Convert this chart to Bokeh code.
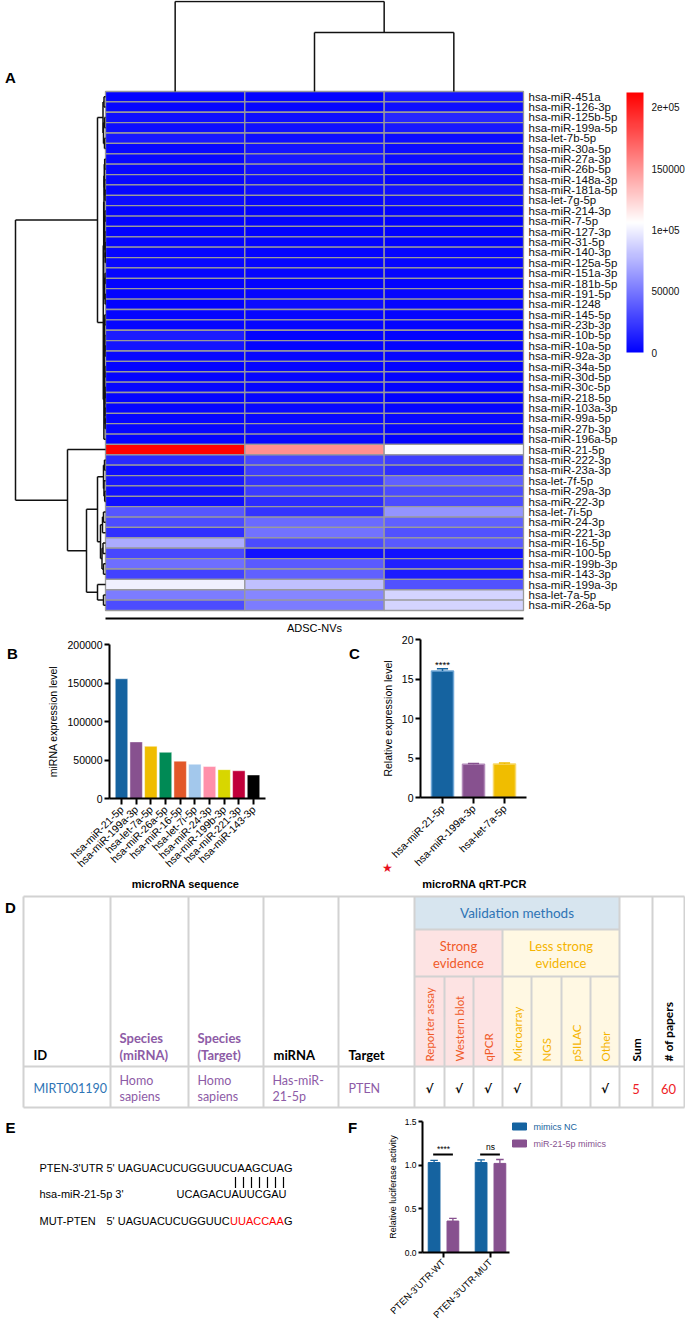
import numpy as np
from math import pi
from bokeh.plotting import figure
from bokeh.layouts import column, row
from bokeh.models import (Range1d, LinearColorMapper, FixedTicker,
                          BasicTickFormatter, NumeralTickFormatter, ColumnDataSource)
from bokeh.core.properties import value
from bokeh.embed import file_html
from bokeh.resources import INLINE

ARIAL = "Liberation Sans"
TFONT = "Lato"

# ---------------- Panel A data ----------------
mirna_names = [
    "hsa-miR-451a", "hsa-miR-126-3p", "hsa-miR-125b-5p", "hsa-miR-199a-5p", "hsa-let-7b-5p",
    "hsa-miR-30a-5p", "hsa-miR-27a-3p", "hsa-miR-26b-5p", "hsa-miR-148a-3p", "hsa-miR-181a-5p",
    "hsa-let-7g-5p", "hsa-miR-214-3p", "hsa-miR-7-5p", "hsa-miR-127-3p", "hsa-miR-31-5p",
    "hsa-miR-140-3p", "hsa-miR-125a-5p", "hsa-miR-151a-3p", "hsa-miR-181b-5p", "hsa-miR-191-5p",
    "hsa-miR-1248", "hsa-miR-145-5p", "hsa-miR-23b-3p", "hsa-miR-10b-5p", "hsa-miR-10a-5p",
    "hsa-miR-92a-3p", "hsa-miR-34a-5p", "hsa-miR-30d-5p", "hsa-miR-30c-5p", "hsa-miR-218-5p",
    "hsa-miR-103a-3p", "hsa-miR-99a-5p", "hsa-miR-27b-3p", "hsa-miR-196a-5p", "hsa-miR-21-5p",
    "hsa-miR-222-3p", "hsa-miR-23a-3p", "hsa-let-7f-5p", "hsa-miR-29a-3p", "hsa-miR-22-3p",
    "hsa-let-7i-5p", "hsa-miR-24-3p", "hsa-miR-221-3p", "hsa-miR-16-5p", "hsa-miR-100-5p",
    "hsa-miR-199b-3p", "hsa-miR-143-3p", "hsa-miR-199a-3p", "hsa-let-7a-5p", "hsa-miR-26a-5p",
]
adsc_1 = [2000, 3000, 7000, 6000, 10000, 4000, 4000, 4000, 4000, 3000,
          5000, 2000, 2000, 1500, 2000, 3000, 4000, 3000, 2000, 2000,
          1000, 2000, 3000, 12000, 9000, 3000, 2000, 2000, 2500, 2000,
          3000, 3000, 3000, 2000, 212000, 18000, 6000, 10000, 8000, 7000,
          36000, 32000, 20000, 72000, 30000, 46000, 28000, 100000, 52000, 32000]
adsc_2 = [2000, 3000, 6000, 7000, 6000, 9000, 10000, 8000, 6000, 7000,
          4000, 2000, 2000, 1500, 2000, 2000, 3000, 2500, 2000, 3000,
          5000, 3000, 3000, 2000, 2000, 3000, 3000, 3000, 3000, 3000,
          4000, 4000, 5000, 3000, 152000, 30000, 26000, 22000, 25000, 19000,
          22000, 44000, 48000, 32000, 8000, 38000, 40000, 80000, 56000, 52000]
adsc_3 = [9000, 6000, 16000, 10000, 5000, 5000, 5000, 4000, 4000, 8000,
          5000, 2000, 1500, 1000, 1500, 2500, 3000, 2500, 2000, 3000,
          3000, 2000, 2000, 2000, 2000, 3000, 2000, 2000, 2000, 1000,
          3000, 4000, 3000, 1000, 104000, 26000, 20000, 40000, 32000, 32000,
          62000, 40000, 34000, 38000, 8000, 14000, 12000, 34000, 88000, 88000]
heat_max = 212000
cbar_ticks = [0, 50000, 100000, 150000, 200000]
cbar_labels = ["0", "50000", "1e+05", "150000", "2e+05"]
sample_group = "ADSC-NVs"

# row dendrogram: [height, left, right], leaves = row index
C1a = [2.5, [1.5, 0, 1], [2, [1, 2, 3], [1, 4, 5]]]
XL = [1.5, [1.2, [0.8, 6, 7], [0.9, 8, [0.5, 9, 10]]],
      [1.0, [0.6, 11, 12], [0.7, 13, [0.4, 14, [0.3, 15, 16]]]]]
XR = [1.1, [0.5, 17, 18], [0.4, 19, 20]]
YL = [1.3, [1.1, [0.7, 21, 22], [0.8, 23, [0.5, 24, 25]]],
      [0.9, [0.6, 26, 27], [0.7, [0.5, 28, 29], [0.6, 30, [0.4, 31, 32]]]]]
C1b = [2.2, [1.8, XL, XR], [1.6, YL, 33]]
A1 = [2, [1, 35, 36], [1.5, 37, [0.8, 38, 39]]]
A2 = [5, [3, [2, 40, 41], 42], [3.5, [2.5, 43, 44], [2, 45, 46]]]
Bc = [8, 47, [2, 48, 49]]
row_tree = [90, [8, C1a, C1b], [38, 34, [19, [8, A1, A2], Bc]]]
col_tree = [1.0, 0, [0.655, 1, 2]]

# ---------------- Panel B data ----------------
b_labels = ["hsa-miR-21-5p", "hsa-miR-199a-3p", "hsa-let-7a-5p", "hsa-miR-26a-5p", "hsa-miR-16-5p",
            "hsa-let-7i-5p", "hsa-miR-24-3p", "hsa-miR-199b-3p", "hsa-miR-221-3p", "hsa-miR-143-3p"]
b_values = [155500, 73500, 67800, 60000, 48500, 44500, 41500, 37500, 36000, 30500]
b_colors = ["#1563a0", "#87518f", "#f0bd00", "#008a55", "#e2582a",
            "#a3c8ec", "#ff90aa", "#d8d600", "#c0003a", "#000000"]

# ---------------- Panel C data ----------------
c_labels = ["hsa-miR-21-5p", "hsa-miR-199a-3p", "hsa-let-7a-5p"]
c_values = [16.0, 4.2, 4.25]
c_err = [0.3, 0.1, 0.12]
c_colors = ["#1563a0", "#87518f", "#f0bd00"]
c_edges = ["#6ea6d6", "#b28ab9", "#f8d96a"]
c_sig = "****"

# ---------------- Panel D data ----------------
tbl_ids = ["MIRT001190"]
tbl_species_mirna = ["Homo", "sapiens"]
tbl_species_target = ["Homo", "sapiens"]
tbl_mirna = ["Has-miR-", "21-5p"]
tbl_target = "PTEN"
methods_strong = ["Reporter assay", "Western blot", "qPCR"]
methods_less = ["Microarray", "NGS", "pSILAC", "Other"]
method_checked = [1, 1, 1, 1, 0, 0, 1]
tbl_sum = "5"
tbl_papers = "60"

# ---------------- Panel F data ----------------
f_groups = ["PTEN-3'UTR-WT", "PTEN-3'UTR-MUT"]
f_series = ["mimics NC", "miR-21-5p mimics"]
f_nc = [1.03, 1.03]
f_nc_err = [0.025, 0.03]
f_mim = [0.36, 1.02]
f_mim_err = [0.03, 0.045]
f_sig = ["****", "ns"]
f_colors = ["#1563a0", "#87518f"]


def lin(pa, va, pb, vb):
    k = (vb - va) / (pb - pa)
    return lambda p: va + (p - pa) * k


def bare(p):
    p.grid.visible = False
    p.outline_line_color = None
    p.background_fill_color = "white"
    p.border_fill_color = "white"


def txt(p, xs, ys, texts, color="black", size="11px", style="normal", align="left",
        angle=0.0, font=ARIAL, baseline="middle"):
    p.text(x=xs, y=ys, text=texts, text_color=color, text_font_size=size, text_font_style=style,
           text_align=align, text_baseline=baseline, text_font=value(font), angle=angle)


# =====================================================================
# Panel A : heatmap   (page px 0..685 x 0..632)
# =====================================================================
pal = []
for k in range(256):
    t = k / 255.0
    if t < 0.5:
        s = t / 0.5
        r = g = int(round(255 * s)); b = 255
    else:
        s = (t - 0.5) / 0.5
        r = 255; g = b = int(round(255 * (1 - s)))
    pal.append("#%02x%02x%02x" % (r, g, b))
mapper = LinearColorMapper(palette=pal, low=0, high=heat_max)

nrow = len(mirna_names)
ax_ = lin(105, 0, 523, 3)
ay_ = lin(610, 0, 91, nrow)
pA = figure(width=685, height=632, x_range=Range1d(ax_(0), ax_(685)), y_range=Range1d(ay_(632), ay_(0)),
            output_backend="svg", toolbar_location=None, x_axis_location=None,
            y_axis_location=None, min_border=0)
bare(pA)

hx, hy, hv = [], [], []
for j, colvals in enumerate([adsc_1, adsc_2, adsc_3]):
    for i, v in enumerate(colvals):
        hx.append(j + 0.5); hy.append(nrow - i - 0.5); hv.append(v)
pA.rect(x="x", y="y", width=1, height=1, source=ColumnDataSource(dict(x=hx, y=hy, v=hv)),
        fill_color={"field": "v", "transform": mapper}, line_color="#9a9a9a", line_width=1.3)

ylab = [nrow - i - 0.5 for i in range(nrow)]
txt(pA, [ax_(528)] * nrow, ylab, mirna_names, "#111111", "11.5px")


def dendro(tree, leaf_pos):
    segs = []

    def rec(node):
        if isinstance(node, int):
            return leaf_pos(node), 0.0
        h, a, b = node
        pa, ha = rec(a)
        pb, hb = rec(b)
        segs.append((pa, ha, pa, h))
        segs.append((pb, hb, pb, h))
        segs.append((pa, h, pb, h))
        return (pa + pb) / 2.0, h
    rec(tree)
    return segs


row_w = (ax_(105) - ax_(15)) / row_tree[0]
rs = dendro(row_tree, lambda i: nrow - i - 0.5)
pA.segment(x0=[-s[1] * row_w for s in rs], y0=[s[0] for s in rs],
           x1=[-s[3] * row_w for s in rs], y1=[s[2] for s in rs],
           line_color="#111111", line_width=1.5)
col_h = ay_(1) - nrow
cs = dendro(col_tree, lambda j: j + 0.5)
pA.segment(x0=[s[0] for s in cs], y0=[nrow + s[1] * col_h for s in cs],
           x1=[s[2] for s in cs], y1=[nrow + s[3] * col_h for s in cs],
           line_color="#111111", line_width=1.5)

# colour bar
cb_x, cb_y = ax_(626), ay_(352)
cb_w, cb_h = ax_(643) - cb_x, ay_(92) - cb_y
grad = np.linspace(0, heat_max, 256).reshape(256, 1)
pA.image(image=[grad], x=cb_x, y=cb_y, dw=cb_w, dh=cb_h, color_mapper=mapper)
txt(pA, [ax_(651)] * len(cbar_ticks), [cb_y + t / heat_max * cb_h for t in cbar_ticks],
    cbar_labels, "#111111", "10px")

pA.segment(x0=[0], y0=[ay_(618)], x1=[3], y1=[ay_(618)], line_color="black", line_width=2.2)
txt(pA, [1.5], [ay_(627)], [sample_group], "black", "11px", align="center")
txt(pA, [ax_(10)], [ay_(77)], ["A"], "black", "15px", "bold", align="center")


def gp_axes(p, tick_size, lab_size):
    for ax in p.axis:
        ax.axis_line_width = 2
        ax.axis_line_color = "black"
        ax.major_tick_line_width = 2
        ax.major_tick_line_color = "black"
        ax.major_tick_in = 0
        ax.major_tick_out = 5
        ax.minor_tick_line_color = None
        ax.major_label_text_font = ARIAL
        ax.major_label_text_font_size = tick_size
        ax.major_label_text_color = "black"
        ax.axis_label_text_font = ARIAL
        ax.axis_label_text_font_size = lab_size
        ax.axis_label_text_color = "black"
        ax.axis_label_text_font_style = "normal"


# =====================================================================
# Panel B   (page px 0..365 x 632..890)
# =====================================================================
bx_ = lin(121, 0, 253, 9)
by_ = lin(798, 0, 644, 200000)
pB = figure(width=365, height=258, x_range=Range1d(bx_(0), bx_(365)), y_range=Range1d(by_(890), by_(632)),
            output_backend="svg", toolbar_location=None, min_border=0)
bare(pB)
bx = list(range(len(b_labels)))
pB.vbar(x=bx, top=b_values, width=0.85, fill_color=b_colors, line_color="white",
        line_alpha=0.45, line_width=1)
gp_axes(pB, "10.5px", "10.5px")
pB.xaxis.fixed_location = 0
pB.xaxis.bounds = (bx_(109), bx_(265))
pB.xaxis.ticker = FixedTicker(ticks=bx)
pB.xaxis.major_label_overrides = {i: s for i, s in enumerate(b_labels)}
pB.xaxis.major_label_orientation = pi / 4
pB.xaxis.major_label_text_font_size = "10.5px"
pB.xaxis.major_tick_out = 6
pB.xaxis.major_label_standoff = 3
pB.yaxis.fixed_location = bx_(109)
pB.yaxis.bounds = (0, 200000)
pB.yaxis.ticker = FixedTicker(ticks=[0, 50000, 100000, 150000, 200000])
pB.yaxis.formatter = BasicTickFormatter(use_scientific=False)
pB.yaxis.major_label_standoff = 2
pB.yaxis.axis_label = "miRNA expression level"
pB.yaxis.axis_label_standoff = 5
txt(pB, [bx_(185)], [by_(883)], ["microRNA sequence"], "black", "11px", "bold", align="center")
txt(pB, [bx_(12), bx_(354)], [by_(653)] * 2, ["B", "C"], "black", "15px", "bold", align="center")

# =====================================================================
# Panel C   (page px 365..685 x 632..890)
# =====================================================================
cx_ = lin(442, 0, 504, 2)
cy_ = lin(797, 0, 639, 20)
pC = figure(width=320, height=258, x_range=Range1d(cx_(365), cx_(685)), y_range=Range1d(cy_(890), cy_(632)),
            output_backend="svg", toolbar_location=None, min_border=0)
bare(pC)
cx = list(range(len(c_labels)))
pC.vbar(x=cx, top=c_values, width=0.71, fill_color=c_colors, line_color=c_edges, line_width=1.5)
c_top = [v + e for v, e in zip(c_values, c_err)]
pC.segment(x0=cx, y0=c_values, x1=cx, y1=c_top, line_color=c_colors, line_width=1.5)
pC.segment(x0=[x - 0.18 for x in cx], y0=c_top, x1=[x + 0.18 for x in cx], y1=c_top,
           line_color=c_colors, line_width=1.5)
txt(pC, [0], [cy_(664)], [c_sig], "black", "9.5px", align="center")
gp_axes(pC, "10.5px", "10.5px")
pC.xaxis.fixed_location = 0
pC.xaxis.bounds = (cx_(420), cx_(526))
pC.xaxis.ticker = FixedTicker(ticks=cx)
pC.xaxis.major_label_overrides = {i: s for i, s in enumerate(c_labels)}
pC.xaxis.major_label_orientation = pi / 4
pC.xaxis.major_label_text_font_size = "10.5px"
pC.xaxis.major_tick_out = 6
pC.xaxis.major_label_standoff = 3
pC.yaxis.fixed_location = cx_(420)
pC.yaxis.bounds = (0, 20)
pC.yaxis.ticker = FixedTicker(ticks=[0, 5, 10, 15, 20])
pC.yaxis.major_label_standoff = 2
pC.yaxis.axis_label = "Relative expression level"
pC.yaxis.axis_label_standoff = 5
txt(pC, [cx_(474)], [cy_(883)], ["microRNA qRT-PCR"], "black", "11px", "bold", align="center")
txt(pC, [cx_(387)], [cy_(867)], ["\u2605"], "#e8101e", "12px", align="center", font="DejaVu Sans")

# =====================================================================
# Panel D : table   (page px 0..685 x 890..1110)
# =====================================================================
pD = figure(width=685, height=220, x_range=Range1d(0, 685), y_range=Range1d(1110, 890),
            output_backend="svg", toolbar_location=None, x_axis_location=None,
            y_axis_location=None, min_border=0)
bare(pD)
ce = [23, 110, 188, 263, 338, 414, 444, 473, 502, 531, 561, 590, 619, 652, 684]
re_ = [896, 929, 976, 1066, 1107]
BLUE_T, PURP, STRONG, LESS = "#2e74b5", "#8d5ba6", "#f05a28", "#f5b400"
pD.quad(left=[ce[5]], right=[ce[12]], top=[re_[0]], bottom=[re_[1]], fill_color="#d7e5ef", line_color=None)
pD.quad(left=[ce[5]], right=[ce[8]], top=[re_[1]], bottom=[re_[3]], fill_color="#fde3e3", line_color=None)
pD.quad(left=[ce[8]], right=[ce[12]], top=[re_[1]], bottom=[re_[3]], fill_color="#fff8e3", line_color=None)
gx0, gy0, gx1, gy1 = [], [], [], []
for k, x in enumerate(ce):
    if k in (0, 1, 2, 3, 4, 5, 12, 13, 14):
        y0 = re_[0]
    elif k == 8:
        y0 = re_[1]
    else:
        y0 = re_[2]
    gx0.append(x); gy0.append(y0); gx1.append(x); gy1.append(re_[4])
for y in (re_[0], re_[3], re_[4]):
    gx0.append(ce[0]); gx1.append(ce[-1]); gy0.append(y); gy1.append(y)
for y in (re_[1], re_[2]):
    gx0.append(ce[5]); gx1.append(ce[12]); gy0.append(y); gy1.append(y)
pD.segment(x0=gx0, y0=gy0, x1=gx1, y1=gy1, line_color="#d2d2d2", line_width=2)

txt(pD, [(ce[5] + ce[12]) / 2], [912.5], ["Validation methods"], BLUE_T, "13.5px", align="center", font=TFONT)
txt(pD, [(ce[5] + ce[8]) / 2] * 2, [945, 962], ["Strong", "evidence"], STRONG, "13px", align="center", font=TFONT)
txt(pD, [(ce[8] + ce[12]) / 2] * 2, [945, 962], ["Less strong", "evidence"], LESS, "13px", align="center", font=TFONT)
mcent = [(ce[k] + ce[k + 1]) / 2 for k in range(5, 14)]
txt(pD, mcent[0:3], [1061] * 3, methods_strong, STRONG, "11.5px", angle=pi / 2, font=TFONT)
txt(pD, mcent[3:7], [1061] * 4, methods_less, LESS, "11.5px", angle=pi / 2, font=TFONT)
txt(pD, mcent[7:9], [1061] * 2, ["Sum", "# of papers"], "black", "12px", "bold", angle=pi / 2, font=TFONT)
txt(pD, [ce[0] + 10], [1054], ["ID"], "black", "13px", "bold", font=TFONT)
txt(pD, [ce[1] + 9] * 2, [1037, 1054], ["Species", "(miRNA)"], PURP, "13px", "bold", font=TFONT)
txt(pD, [ce[2] + 9] * 2, [1037, 1054], ["Species", "(Target)"], PURP, "13px", "bold", font=TFONT)
txt(pD, [ce[3] + 10], [1054], ["miRNA"], "black", "13px", "bold", font=TFONT)
txt(pD, [ce[4] + 10], [1054], ["Target"], "black", "13px", "bold", font=TFONT)
txt(pD, [ce[0] + 10], [1088], tbl_ids, BLUE_T, "12.5px", font=TFONT)
txt(pD, [ce[1] + 9] * 2, [1080, 1096], tbl_species_mirna, PURP, "12.5px", font=TFONT)
txt(pD, [ce[2] + 9] * 2, [1080, 1096], tbl_species_target, PURP, "12.5px", font=TFONT)
txt(pD, [ce[3] + 9] * 2, [1080, 1096], tbl_mirna, PURP, "12.5px", font=TFONT)
txt(pD, [ce[4] + 10], [1088], [tbl_target], PURP, "12.5px", font=TFONT)
chk_x = [mcent[k] for k in range(7) if method_checked[k]]
txt(pD, chk_x, [1088] * len(chk_x), ["\u221a"] * len(chk_x), "black", "12px", "bold",
    align="center", font="DejaVu Sans")
txt(pD, [mcent[7], mcent[8]], [1088, 1088], [tbl_sum, tbl_papers], "#ee1c25", "13px", align="center", font=TFONT)
txt(pD, [10], [907], ["D"], "black", "15px", "bold", align="center")

# =====================================================================
# Panel E : sequences   (page px 0..358 x 1110..1320)
# =====================================================================
pE = figure(width=358, height=210, x_range=Range1d(0, 358), y_range=Range1d(1320, 1110),
            output_backend="svg", toolbar_location=None, x_axis_location=None,
            y_axis_location=None, min_border=0)
bare(pE)
seq_utr = "PTEN-3'UTR 5' UAGUACUCUGGUUCUAAGCUAG"
seq_mir_name = "hsa-miR-21-5p 3'"
seq_mir = "UCAGACUAUUCGAU"
seq_mut_name = "MUT-PTEN"
seq_mut_a, seq_mut_b, seq_mut_c = "5' UAGUACUCUGGUUC", "UUACCAA", "G"
n_pairs = 7
txt(pE, [39, 39, 176, 39, 106, 283.5], [1167, 1193, 1193, 1220, 1220, 1220],
    [seq_utr, seq_mir_name, seq_mir, seq_mut_name, seq_mut_a, seq_mut_c], "black", "11px")
txt(pE, [229.5], [1220], [seq_mut_b], "#ff0000", "11px")
bar_x = [235 + 8 * k for k in range(n_pairs)]
pE.segment(x0=bar_x, y0=[1176.5] * n_pairs, x1=bar_x, y1=[1187.5] * n_pairs, line_color="black", line_width=1.2)
txt(pE, [10, 352], [1127, 1127], ["E", "F"], "black", "15px", "bold", align="center")

# =====================================================================
# Panel F   (page px 358..685 x 1110..1320)
# =====================================================================
fx_ = lin(443, 0, 490, 1)
fy_ = lin(1252, 0, 1121, 1.5)
pF = figure(width=327, height=210, x_range=Range1d(fx_(358), fx_(685)), y_range=Range1d(fy_(1320), fy_(1110)),
            output_backend="svg", toolbar_location=None, min_border=0)
bare(pF)
fx = list(range(len(f_groups)))
off = 0.2
x_nc = [x - off for x in fx]
x_mm = [x + off for x in fx]
pF.vbar(x=x_nc, top=f_nc, width=0.25, color=f_colors[0])
pF.vbar(x=x_mm, top=f_mim, width=0.25, color=f_colors[1])
for xs, vals, errs, col in ((x_nc, f_nc, f_nc_err, f_colors[0]), (x_mm, f_mim, f_mim_err, f_colors[1])):
    tops = [v + e for v, e in zip(vals, errs)]
    pF.segment(x0=xs, y0=vals, x1=xs, y1=tops, line_color=col, line_width=1.3)
    pF.segment(x0=[x - 0.08 for x in xs], y0=tops, x1=[x + 0.08 for x in xs], y1=tops,
               line_color=col, line_width=1.3)
pF.segment(x0=[x - 0.22 for x in fx], y0=[fy_(1154)] * 2, x1=[x + 0.2 for x in fx], y1=[fy_(1154)] * 2,
           line_color="black", line_width=2)
txt(pF, fx, [fy_(1148.5), fy_(1146.5)], f_sig, "black", "8.5px", align="center")
pF.rect(x=[fx_(519)] * 2, y=[fy_(1126), fy_(1143)], width=fx_(526) - fx_(512),
        height=fy_(1122) - fy_(1129), color=f_colors)
txt(pF, [fx_(533)], [fy_(1126)], [f_series[0]], f_colors[0], "9px")
txt(pF, [fx_(533)], [fy_(1143)], [f_series[1]], f_colors[1], "9px")
gp_axes(pF, "8.5px", "9px")
pF.xaxis.fixed_location = 0
pF.xaxis.bounds = (fx_(422), fx_(509))
pF.xaxis.ticker = FixedTicker(ticks=fx)
pF.xaxis.major_label_overrides = {i: s for i, s in enumerate(f_groups)}
pF.xaxis.major_label_orientation = pi / 4
pF.xaxis.major_label_text_font_size = "9.5px"
pF.xaxis.major_label_standoff = 3
pF.yaxis.fixed_location = fx_(422)
pF.yaxis.bounds = (0, 1.5)
pF.yaxis.ticker = FixedTicker(ticks=[0, 0.5, 1.0, 1.5])
pF.yaxis.formatter = NumeralTickFormatter(format="0.0")
pF.yaxis.major_label_standoff = 2
pF.yaxis.major_tick_out = 4
pF.yaxis.axis_label = "Relative luciferase activity"
pF.yaxis.axis_label_standoff = 4

layout = column(pA, row(pB, pC), pD, row(pE, pF))
open("out.html", "w").write(file_html(layout, INLINE))
